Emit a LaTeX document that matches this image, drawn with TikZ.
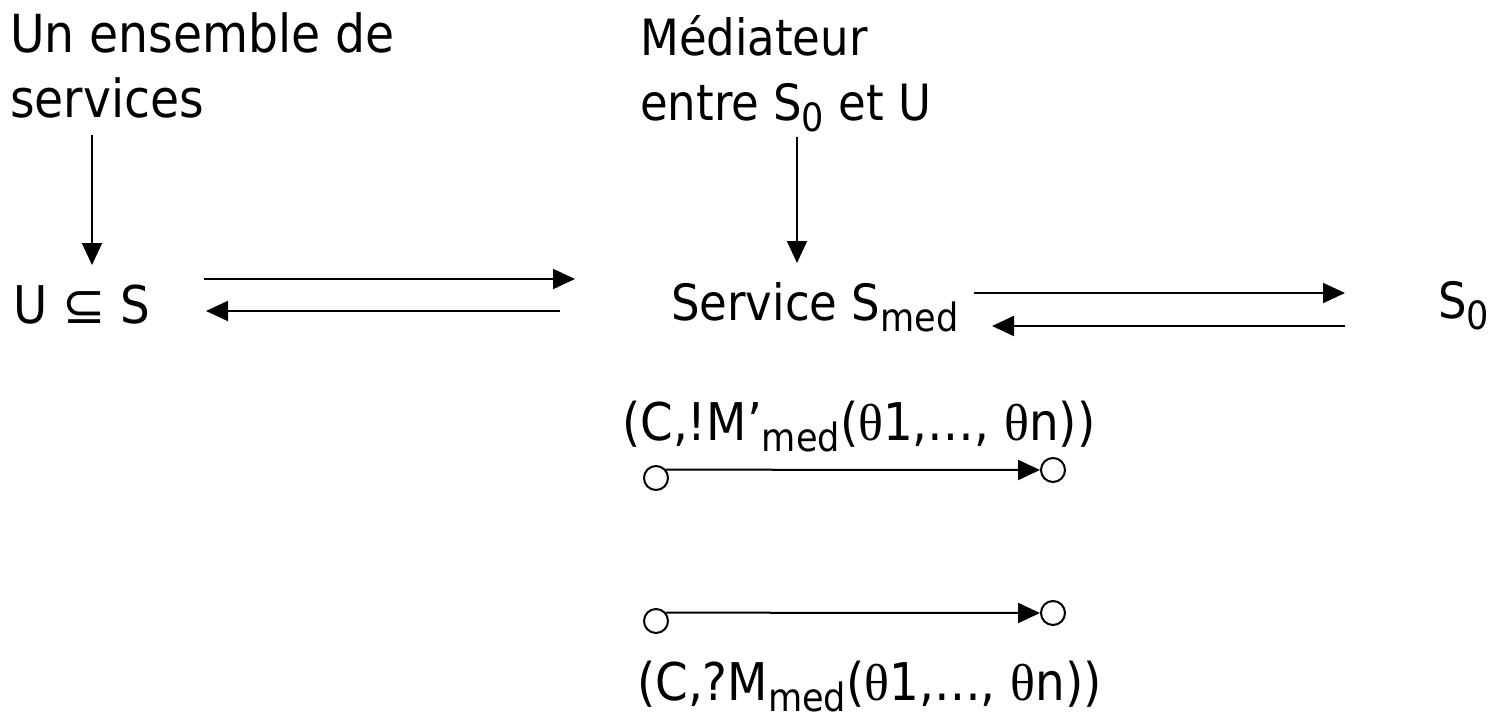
\documentclass[tikz,border=0pt]{standalone}
\usepackage{fontspec}
\setmainfont{DejaVu Sans Condensed}
\newfontfamily\thetafont{Liberation Serif}
\newfontfamily\symfont{DejaVu Sans}
\usetikzlibrary{arrows.meta}
\newcommand{\sbs}[1]{\raisebox{-11pt}{\fontsize{39}{39}\selectfont #1}}
\newcommand{\thet}{{\thetafont θ}}
\begin{document}
\begin{tikzpicture}[x=1pt,y=-1pt,
  lbl/.style={inner sep=0pt, anchor=base west, font=\fontsize{50}{60}\selectfont},
  big/.style={lbl, font=\fontsize{52.5}{63}\selectfont},
  lab/.style={lbl, font=\fontsize{52}{62}\selectfont},
  arr/.style={line width=2pt, -{Triangle[length=22pt,width=20pt]}},
  dot/.style={circle, draw, line width=2pt, minimum size=24pt, inner sep=0pt}]
\useasboundingbox (0,0) rectangle (1497,720);
% left column
\node[big] (ens1) at (10,52) {Un ensemble de};
\node[big] (ens2) at (10,117) {services};
\node[lab] (U) at (13,323) {U {\symfont ⊆} S};
\coordinate (a1s) at (92,135);
\coordinate (a1e) at (92,265);
\draw[arr] (a1s) -- (a1e);
% middle column
\node[lbl] (med1) at (640,55) {Médiateur};
\node[lbl] (med2) at (640,120) {entre S\sbs{0} et U};
\coordinate (a2s) at (797,137);
\coordinate (a2e) at (797,263);
\draw[arr] (a2s) -- (a2e);
\node[lbl] (smed) at (671,320) {Service S\sbs{med}};
\node[lbl] (s0) at (1438,318) {S\sbs{0}};
% horizontal arrows
\coordinate (h1s) at (204,279);
\coordinate (h1e) at (575,279);
\coordinate (h2s) at (560,311);
\coordinate (h2e) at (206,311);
\draw[arr] (h1s) -- (h1e);
\draw[arr] (h2s) -- (h2e);
\coordinate (h3s) at (974,293);
\coordinate (h3e) at (1345,293);
\coordinate (h4s) at (1345,326);
\coordinate (h4e) at (992,326);
\draw[arr] (h3s) -- (h3e);
\draw[arr] (h4s) -- (h4e);
% transitions
\node[lab] (t1) at (622,440) {(C,!M’\sbs{med}(\thet1,…, \thet n))};
\node[dot] (c1) at (656,478) {};
\node[dot] (c2) at (1053,470) {};
\draw[arr] (c1.40) -- (c2.west);
\node[dot] (c3) at (656,621) {};
\node[dot] (c4) at (1053,613) {};
\draw[arr] (c3.40) -- (c4.west);
\node[lab] (t2) at (637,700) {(C,?M\sbs{med}(\thet1,…, \thet n))};
\end{tikzpicture}
\end{document}
